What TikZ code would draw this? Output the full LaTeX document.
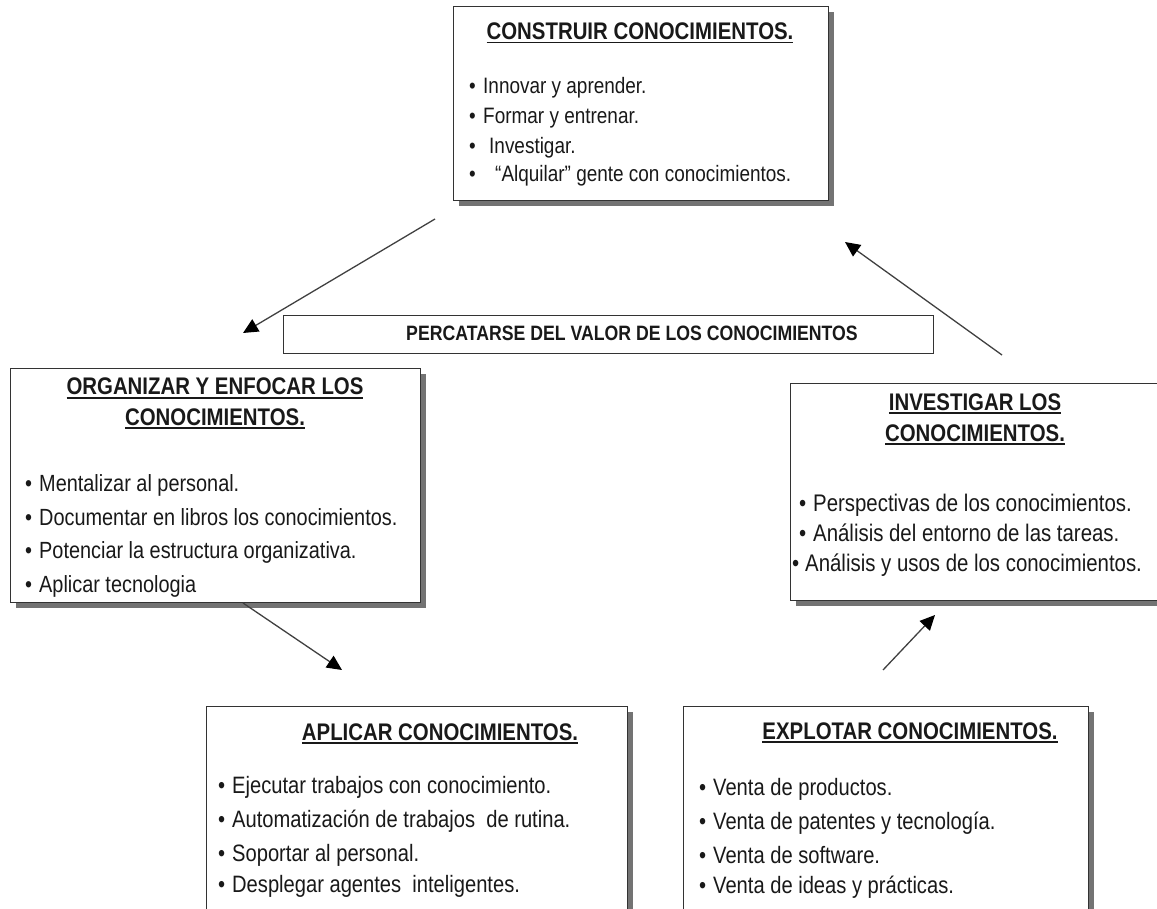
\documentclass[tikz,border=0pt]{standalone}
\usepackage{fontspec}
\setmainfont{Liberation Sans}[FakeStretch=0.85]
\usetikzlibrary{arrows.meta,shadows}
\newcommand\ulbox[1]{\setbox0\hbox{#1}\rlap{\rule[-3.5pt]{\wd0}{1.4pt}}\box0}
\newcommand\bul{\makebox[14pt][l]{\textbullet}}
\begin{document}
\begin{tikzpicture}[x=1pt,y=-1pt,
  box/.style={draw=black!80, line width=1.3pt, fill=white, anchor=north west, inner sep=0pt,
    drop shadow={shadow xshift=5pt, shadow yshift=-5pt, fill=black!55, opacity=1}},
  bar/.style={draw=black!80, line width=1.1pt, fill=white, anchor=north west, inner sep=0pt},
  ttl/.style={font=\fontsize{24}{28}\selectfont\bfseries, text=black!90, inner sep=0pt, anchor=base},
  itm/.style={font=\fontsize{#1}{26}\selectfont, text=black!90, inner sep=0pt, anchor=base west},
  arr/.style={draw=black!75, line width=1.3pt, -{Triangle[length=15pt,width=14pt,color=black]}}]
\useasboundingbox (0,0) rectangle (1157,909);
\begin{scope}
\clip (0,0) rectangle (1157,909);
% boxes
\node[box, minimum width=375pt, minimum height=194pt] (top) at (453,6) {};
\node[bar, minimum width=650pt, minimum height=38pt] (val) at (283,315) {};
\node[box, minimum width=410pt, minimum height=234pt] (org) at (10,368) {};
\node[box, minimum width=372pt, minimum height=217pt] (inv) at (790,383) {};
\node[box, minimum width=421pt, minimum height=240pt] (apl) at (206,706) {};
\node[box, minimum width=405pt, minimum height=240pt] (exp) at (683,706) {};
% top box text
\node[ttl] (top0) at (640,40) {\ulbox{CONSTRUIR CONOCIMIENTOS.}};
\node[itm=22.3] (top1) at (469,94) {\bul Innovar y aprender.};
\node[itm=22.3] (top2) at (469,124) {\bul Formar y entrenar.};
\node[itm=22.3] (top3) at (469,154) {\bul\hspace{6pt}Investigar.};
\node[itm=22.3] (top4) at (469,182) {\bul\hspace{12pt}“Alquilar” gente con conocimientos.};
% bar text
\node[ttl, font=\fontsize{20.8}{24}\selectfont\bfseries] (val0) at (632,341) {PERCATARSE DEL VALOR DE LOS CONOCIMIENTOS};
% left box text
\node[ttl] (org0) at (215,395) {\ulbox{ORGANIZAR Y ENFOCAR LOS}};
\node[ttl] (org00) at (215,425) {\ulbox{CONOCIMIENTOS.}};
\node[itm=23.4] (org1) at (25,491) {\bul Mentalizar al personal.};
\node[itm=23.4] (org2) at (25,525) {\bul Documentar en libros los conocimientos.};
\node[itm=23.4] (org3) at (25,558) {\bul Potenciar la estructura organizativa.};
\node[itm=23.4] (org4) at (25,592) {\bul Aplicar tecnologia};
% right box text
\node[ttl] (inv0) at (975,410) {\ulbox{INVESTIGAR LOS}};
\node[ttl] (inv00) at (975,441) {\ulbox{CONOCIMIENTOS.}};
\node[itm=24] (inv1) at (799,511) {\bul Perspectivas de los conocimientos.};
\node[itm=24] (inv2) at (799,541) {\bul Análisis del entorno de las tareas.};
\node[itm=24] (inv3) at (792,571) {\makebox[13pt][l]{\textbullet}Análisis y usos de los conocimientos.};
% bottom left text
\node[ttl] (apl0) at (440,740) {\ulbox{APLICAR CONOCIMIENTOS.}};
\node[itm=23.7] (apl1) at (218,793) {\bul Ejecutar trabajos con conocimiento.};
\node[itm=23.7] (apl2) at (218,827) {\bul Automatización de trabajos\ \ de rutina.};
\node[itm=23.7] (apl3) at (218,861) {\bul Soportar al personal.};
\node[itm=23.7] (apl4) at (218,892) {\bul Desplegar agentes\ \ inteligentes.};
% bottom right text
\node[ttl] (exp0) at (910,739) {\ulbox{EXPLOTAR CONOCIMIENTOS.}};
\node[itm=23.7] (exp1) at (699,795) {\bul Venta de productos.};
\node[itm=23.7] (exp2) at (699,829) {\bul Venta de patentes y tecnología.};
\node[itm=23.7] (exp3) at (699,863) {\bul Venta de software.};
\node[itm=23.7] (exp4) at (699,893) {\bul Venta de ideas y prácticas.};
% arrows
\coordinate (a1s) at (435,219); \coordinate (a1e) at (243,333);
\coordinate (a2s) at (1002,355); \coordinate (a2e) at (845,242);
\coordinate (a3s) at (243,603); \coordinate (a3e) at (342,670);
\coordinate (a4s) at (883,670); \coordinate (a4e) at (935,615);
\draw[arr] (a1s) -- (a1e);
\draw[arr] (a2s) -- (a2e);
\draw[arr] (a3s) -- (a3e);
\draw[arr] (a4s) -- (a4e);
\end{scope}
\end{tikzpicture}
\end{document}
